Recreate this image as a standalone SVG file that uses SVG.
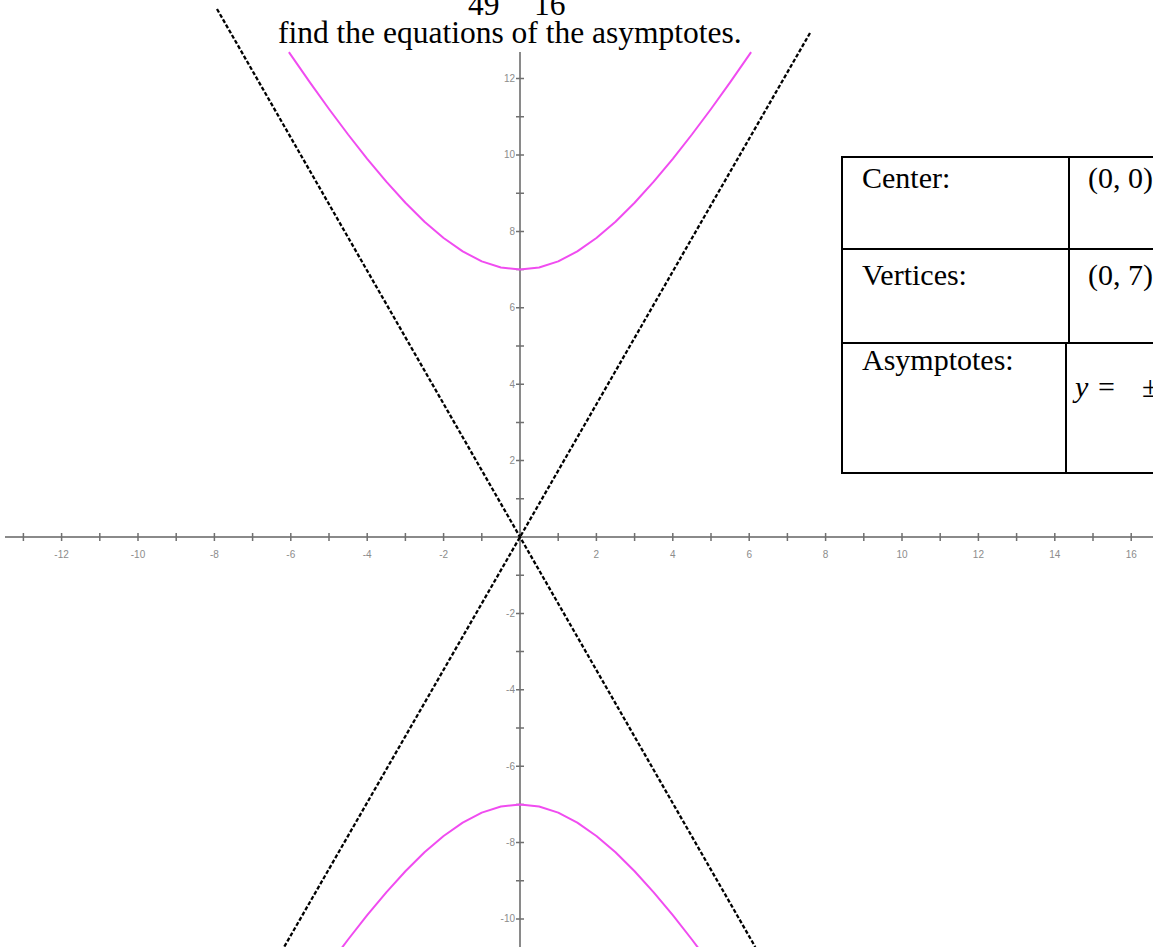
<svg xmlns="http://www.w3.org/2000/svg" width="1153" height="947" viewBox="0 0 1153 947">
<style>
.txt{font-family:"Liberation Serif","Times New Roman",serif;fill:#000}
.t31{font-size:31.5px}
.t30{font-size:30px}
.ax{stroke:#8a8a8a;stroke-width:2;fill:none}
.tick{stroke:#707070;stroke-width:1.5;fill:none}
.lbl{font-family:"Liberation Sans",Arial,sans-serif;font-size:10px;fill:#8c8c8c}
.curve{stroke:#f04cf0;stroke-width:2;fill:none;stroke-linejoin:round}
.asym{stroke:#000;stroke-width:2.3;stroke-dasharray:4 2;fill:none}
.tb{stroke:#000;stroke-width:2;fill:none}
</style>
<rect width="1153" height="947" fill="#fff"/>
<g id="title">
<text class="txt t31" x="468" y="15">49</text>
<text class="txt t31" x="534" y="15">16</text>
<text class="txt t31" x="278" y="43">find the equations of the asymptotes.</text>
</g>
<g id="axes">
<line class="ax" x1="5" y1="537" x2="1153" y2="537"/>
<line class="ax" x1="520" y1="52" x2="520" y2="947"/>
<path class="tick" d="M23.4 533v8M61.6 533v8M99.8 533v8M138 533v8M176.2 533v8M214.4 533v8M252.6 533v8M290.8 533v8M329 533v8M367.2 533v8M405.4 533v8M443.6 533v8M481.8 533v8M558.2 533v8M596.4 533v8M634.6 533v8M672.8 533v8M711 533v8M749.2 533v8M787.4 533v8M825.6 533v8M863.8 533v8M902 533v8M940.2 533v8M978.4 533v8M1016.6 533v8M1054.8 533v8M1093 533v8M1131.2 533v8"/>
<path class="tick" d="M516 78.6h8M516 116.8h8M516 155h8M516 193.2h8M516 231.4h8M516 269.6h8M516 307.8h8M516 346h8M516 384.2h8M516 422.4h8M516 460.6h8M516 498.8h8M516 575.2h8M516 613.4h8M516 651.6h8M516 689.8h8M516 728h8M516 766.2h8M516 804.4h8M516 842.6h8M516 880.8h8M516 919h8"/>
<g class="lbl" text-anchor="middle">
<text x="61.6" y="558">-12</text>
<text x="138" y="558">-10</text>
<text x="214.4" y="558">-8</text>
<text x="290.8" y="558">-6</text>
<text x="367.2" y="558">-4</text>
<text x="443.6" y="558">-2</text>
<text x="596.4" y="558">2</text>
<text x="672.8" y="558">4</text>
<text x="749.2" y="558">6</text>
<text x="825.6" y="558">8</text>
<text x="902" y="558">10</text>
<text x="978.4" y="558">12</text>
<text x="1054.8" y="558">14</text>
<text x="1131.2" y="558">16</text>
</g>
<g class="lbl" text-anchor="end">
<text x="515" y="82">12</text>
<text x="515" y="158.4">10</text>
<text x="515" y="234.8">8</text>
<text x="515" y="311.2">6</text>
<text x="515" y="387.6">4</text>
<text x="515" y="464">2</text>
<text x="515" y="616.8">-2</text>
<text x="515" y="693.2">-4</text>
<text x="515" y="769.6">-6</text>
<text x="515" y="846">-8</text>
<text x="515" y="922.4">-10</text>
</g>
</g>
<g id="hyperbola">
<polyline class="curve" points="288.9,52.2 290.8,54.9 309.9,82.4 329,109 348.1,134.5 367.2,158.8 386.3,181.7 405.4,202.75 424.5,221.7 443.6,238 462.7,251.4 481.8,261.4 500.9,267.5 520,269.6 539.1,267.5 558.2,261.4 577.3,251.4 596.4,238 615.5,221.7 634.6,202.75 653.7,181.7 672.8,158.8 691.9,134.5 711,109 730.1,82.4 749.2,54.9 751.1,52.2"/>
<polyline class="curve" points="329,965 348.1,939.5 367.2,915.2 386.3,892.3 405.4,871.25 424.5,852.3 443.6,836 462.7,822.6 481.8,812.6 500.9,806.5 520,804.4 539.1,806.5 558.2,812.6 577.3,822.6 596.4,836 615.5,852.3 634.6,871.25 653.7,892.3 672.8,915.2 691.9,939.5 711,965"/>
</g>
<g id="asymptotes">
<line class="asym" x1="217" y1="9" x2="755.3" y2="947"/>
<line class="asym" x1="810" y1="33" x2="284.1" y2="947"/>
</g>
<g id="table">
<path class="tb" d="M842 157H1153M842 249H1153M842 343H1153M842 473H1153M842 156V474M1069 157V343M1066 343V473"/>
<text class="txt t30" x="862" y="188">Center:</text>
<text class="txt t30" x="1088" y="188">(0, 0)</text>
<text class="txt t30" x="862" y="285">Vertices:</text>
<text class="txt t30" x="1088" y="285">(0, 7)</text>
<text class="txt t30" x="862" y="370">Asymptotes:</text>
<text class="txt t30" x="1075" y="397" font-style="italic">y</text>
<text class="txt t30" x="1098" y="397">=</text>
<text class="txt t30" x="1142" y="397">±</text>
</g>
</svg>
